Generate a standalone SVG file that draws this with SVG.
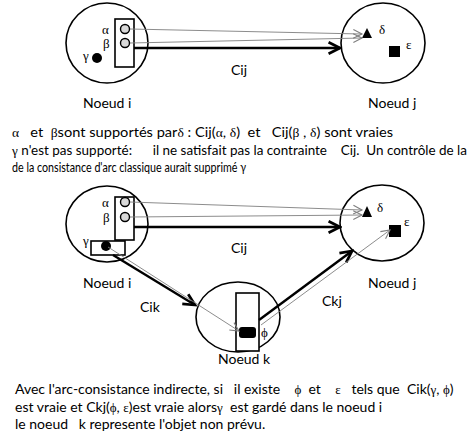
<svg xmlns="http://www.w3.org/2000/svg" width="469" height="438" viewBox="0 0 469 438">
<style>
.t{font-family:Lato,"Liberation Sans",sans-serif;font-size:14px;fill:#000}
.g{font-family:"Liberation Serif","Times New Roman",serif;font-size:13px;fill:#000}
.node{fill:#fff;stroke:#000;stroke-width:1.6}
.box{fill:#fff;stroke:#000;stroke-width:1.6}
.val{fill:#d9d9d9;stroke:#000;stroke-width:1.4}
.thin{fill:none;stroke:#7f7f7f;stroke-width:0.9}
.thick{fill:none;stroke:#000;stroke-width:2.4}
</style>
<defs>
<marker id="aOpen" markerUnits="userSpaceOnUse" markerWidth="12" markerHeight="12" refX="8" refY="4" orient="auto" viewBox="-1 -1 11 10">
<path d="M0,0 L8,4 L0,8" fill="none" stroke="#7f7f7f" stroke-width="1"/>
</marker>
<marker id="aThick" markerUnits="userSpaceOnUse" markerWidth="16" markerHeight="16" refX="10" refY="5" orient="auto" viewBox="-2 -2 14 14">
<path d="M0,0 L10,5 L0,10" fill="none" stroke="#000" stroke-width="2.4"/>
</marker>
</defs>

<g id="node-i-top">
<ellipse class="node" cx="107" cy="43" rx="41" ry="40"/>
<rect class="box" x="115" y="19" width="19" height="48"/>
<circle class="val" cx="125" cy="29" r="4.5"/>
<circle class="val" cx="125" cy="43" r="4.5"/>
<circle cx="97" cy="58" r="5" fill="#000"/>
<text class="g" x="102" y="34">α</text>
<text class="g" x="103" y="48">β</text>
<text class="g" x="83" y="60">γ</text>
<text class="t" x="83" y="108">Noeud i</text>
</g>

<g id="node-j-top">
<ellipse class="node" cx="383" cy="43" rx="42" ry="40"/>
<path d="M362,38 L367,28 L372,38 Z" fill="#000"/>
<rect x="389" y="46" width="11" height="11" fill="#000"/>
<text class="g" x="379" y="34">δ</text>
<text class="g" x="406" y="49">ε</text>
<text class="t" x="368" y="108">Noeud j</text>
</g>

<g id="node-i-bottom">
<ellipse class="node" cx="107" cy="224" rx="41" ry="38"/>
<rect class="box" x="115" y="197" width="19" height="43"/>
<circle class="val" cx="125" cy="202" r="4.5"/>
<circle class="val" cx="125" cy="217" r="4.5"/>
<rect class="box" x="91" y="241" width="34" height="14"/>
<circle cx="106" cy="246" r="5" fill="#000"/>
<text class="g" x="102" y="207">α</text>
<text class="g" x="103" y="222">β</text>
<text class="g" x="83" y="245">γ</text>
<text class="t" x="83" y="288">Noeud i</text>
</g>

<g id="node-j-bottom">
<ellipse class="node" cx="382" cy="223" rx="42" ry="38"/>
<path d="M362,217 L367,206 L372,217 Z" fill="#000"/>
<rect x="389" y="225" width="12" height="12" fill="#000"/>
<text class="g" x="377" y="212">δ</text>
<text class="g" x="404" y="226">ε</text>
<text class="t" x="368" y="288">Noeud j</text>
</g>

<g id="node-k">
<ellipse class="node" cx="238" cy="317" rx="42" ry="35"/>
<rect class="box" x="236" y="293" width="23" height="58"/>
<rect x="239" y="327" width="17" height="11" rx="3" fill="#000"/>
<text class="g" x="261" y="337">ϕ</text>
<text class="t" x="218" y="364">Noeud k</text>
</g>

<g id="connectors">
<line class="thin" x1="130" y1="29" x2="362" y2="34" marker-end="url(#aOpen)"/>
<line class="thin" x1="130" y1="43" x2="362" y2="38" marker-end="url(#aOpen)"/>
<line class="thick" x1="134" y1="48" x2="340" y2="48" marker-end="url(#aThick)"/>
<line class="thin" x1="130" y1="202" x2="362" y2="210" marker-end="url(#aOpen)"/>
<line class="thin" x1="130" y1="217" x2="362" y2="215" marker-end="url(#aOpen)"/>
<line class="thick" x1="134" y1="227" x2="340" y2="227" marker-end="url(#aThick)"/>
<line class="thick" x1="113" y1="255" x2="195" y2="305" marker-end="url(#aThick)"/>
<line class="thin" x1="108" y1="247" x2="239" y2="331" marker-end="url(#aOpen)"/>
<line class="thick" x1="259" y1="320" x2="352" y2="251" marker-end="url(#aThick)"/>
<line class="thin" x1="261" y1="325" x2="390" y2="230" marker-end="url(#aOpen)"/>
<text class="t" x="231" y="75">Cij</text>
<text class="t" x="231" y="253">Cij</text>
<text class="t" x="140" y="312">Cik</text>
<text class="t" x="322" y="306">Ckj</text>
</g>

<g id="caption-top">
<text class="t" x="12" y="137" xml:space="preserve" textLength="381" lengthAdjust="spacingAndGlyphs"><tspan class="g">α</tspan>   et  <tspan class="g">β</tspan>sont supportés par<tspan class="g">δ</tspan> : Cij(<tspan class="g">α</tspan>, <tspan class="g">δ</tspan>)  et   Cij(<tspan class="g">β</tspan> , <tspan class="g">δ</tspan>) sont vraies</text>
<text class="t" x="12" y="155" style="font-size:13.3px" xml:space="preserve" textLength="455" lengthAdjust="spacingAndGlyphs"><tspan class="g">γ</tspan> n'est pas supporté:      il ne satisfait pas la contrainte    Cij.  Un contrôle de la</text>
<text class="t" x="12" y="172" style="font-size:12.5px" textLength="234" lengthAdjust="spacingAndGlyphs">de la consistance d'arc classique aurait supprimé γ</text>
</g>

<g id="caption-bottom">
<text class="t" x="15" y="394" xml:space="preserve">Avec l'arc-consistance indirecte, si   il existe    <tspan class="g">ϕ</tspan>  et    <tspan class="g">ε</tspan>   tels que  Cik(<tspan class="g">γ</tspan>, <tspan class="g">ϕ</tspan>)</text>
<text class="t" x="15" y="412" xml:space="preserve">est vraie et Ckj(<tspan class="g">ϕ</tspan>, <tspan class="g">ε</tspan>)est vraie alors<tspan class="g">γ</tspan>  est gardé dans le noeud i</text>
<text class="t" x="15" y="429" xml:space="preserve">le noeud   k represente l'objet non prévu.</text>
</g>
</svg>
